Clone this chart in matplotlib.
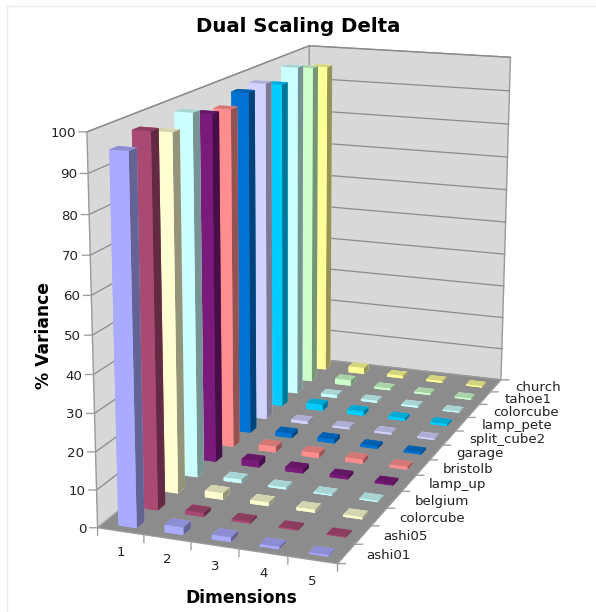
import numpy as np
import matplotlib
matplotlib.use('Agg')
import matplotlib.pyplot as plt
from matplotlib.colors import to_rgb
from matplotlib.lines import Line2D
from mpl_toolkits.mplot3d import proj3d
from mpl_toolkits.mplot3d.art3d import Poly3DCollection

W, H = 596, 612

dimensions = ['1', '2', '3', '4', '5']
images = ['ashi01', 'ashi05', 'colorcube', 'belgium', 'lamp_up', 'bristolb',
          'garage', 'split_cube2', 'lamp_pete', 'colorcube', 'tahoe1', 'church']
variance = [
    [95.5, 2.0, 1.2, 0.6, 0.3],
    [98.0, 1.0, 0.5, 0.3, 0.2],
    [95.5, 1.8, 1.0, 0.8, 0.6],
    [98.3, 1.0, 0.5, 0.3, 0.3],
    [95.8, 1.8, 1.2, 0.8, 0.5],
    [95.0, 1.7, 1.4, 1.2, 0.8],
    [97.5, 1.3, 1.2, 0.7, 0.5],
    [98.0, 0.8, 0.5, 0.5, 0.4],
    [95.8, 1.8, 1.3, 0.8, 0.6],
    [98.8, 0.9, 0.6, 0.5, 0.3],
    [96.8, 1.7, 0.6, 0.5, 0.4],
    [95.3, 1.9, 0.8, 0.6, 0.4],
]
colors = ['#AAAAFF', '#AA4A73', '#FFFFD2', '#CCFFFF', '#7A1A7A', '#FF8F8F',
          '#0073D2', '#D2D2FF', '#00CCFF', '#CCFFFF', '#CCFFCC', '#FFFF99']
z_ticks = list(range(0, 101, 10))

fig = plt.figure(figsize=(W / 100, H / 100), dpi=100)
side = 684.21
cx, cy = 312.37, 281.67
ax = fig.add_axes([(cx - side / 2) / W, 1 - (cy + side / 2) / H, side / W, side / H],
                  projection='3d', computed_zorder=False)
ax.view_init(elev=14.8956, azim=-70.0913, roll=-0.2621)
ax.set_proj_type('persp', focal_length=0.5273)
ax.set_box_aspect((1, 2.3808, 1.5787))
ax.set_xlim(0, 5)
ax.set_ylim(0, 12)
ax.set_zlim(0, 100)
ax.set_axis_off()
ax.patch.set_visible(False)
ax.apply_aspect()
proj = ax.get_proj()


def mark(x, y, z, dx, dy, label=None, **kw):
    # tick stub or label placed a few pixels away from a point of the box
    xp, yp, _ = proj3d.proj_transform(x, y, z, proj)
    if label is None:
        ax.annotate('', xy=(xp, yp), xytext=(dx, dy), textcoords='offset pixels',
                    annotation_clip=False,
                    arrowprops=dict(arrowstyle='-', color='#A0A0A0', lw=1, shrinkA=0, shrinkB=0))
    else:
        ax.annotate(label, xy=(xp, yp), xytext=(dx, dy), textcoords='offset pixels',
                    annotation_clip=False, fontsize=9.6, color='#222222', **kw)


# floor and the two walls
walls = [[(0, 0, 0), (5, 0, 0), (5, 12, 0), (0, 12, 0)],
         [(0, 0, 0), (0, 12, 0), (0, 12, 100), (0, 0, 100)],
         [(0, 12, 0), (5, 12, 0), (5, 12, 100), (0, 12, 100)]]
ax.add_collection3d(Poly3DCollection(walls, facecolors=['#8C8C8C', '#D8D8D8', '#D8D8D8'],
                                     edgecolors='#999999', linewidths=1, zorder=1))
for z in z_ticks[1:]:
    ax.plot([0, 0, 5], [0, 12, 12], [z, z, z], color='#8A8A8A', lw=0.9, zorder=2)

# back rows first, so the nearer bars cover them
for j in range(len(images) - 1, -1, -1):
    for i in range(len(dimensions)):
        c = np.array(to_rgb(colors[j]))
        faces = [c, c * 0.83, c, c, c, c * 0.58]
        ax.bar3d(i + 0.33, j + 0.25, 0, 0.4, 0.36, variance[j][i], color=faces, shade=False,
                 zorder=3 + (len(images) - j) * 10 + i)

for z in z_ticks:
    mark(0, 0, z, -8, 0)
    mark(0, 0, z, -11, -1.5, str(z), ha='right', va='center')
for i in range(len(dimensions) + 1):
    mark(i, 0, 0, 0, -8)
for i, name in enumerate(dimensions):
    mark(i + 0.5, 0, 0, 0, -21.5, name, ha='center', va='center')
for j in range(len(images) + 1):
    mark(5, j, 0, 8, 0)
for j, name in enumerate(images):
    mark(5, j + 0.5, 0, 20, -1.5, name, ha='left', va='center')

fig.text(298 / W, 1 - 27 / H, 'Dual Scaling Delta', fontsize=14.2, fontweight='bold',
         ha='center', va='center')
fig.text(241 / W, 1 - 598 / H, 'Dimensions', fontsize=12.3, fontweight='bold',
         ha='center', va='center')
fig.text(44 / W, 1 - 335 / H, '% Variance', fontsize=12.3, fontweight='bold',
         rotation=90, ha='center', va='center')

# faint frame of the chart area, open on the right and at the bottom
fig.add_artist(Line2D([7.5 / W, 7.5 / W, 1], [0, 1 - 5.5 / H, 1 - 5.5 / H],
                      color='#EDEDED', lw=1, transform=fig.transFigure))

fig.savefig('out.png', dpi=100)
